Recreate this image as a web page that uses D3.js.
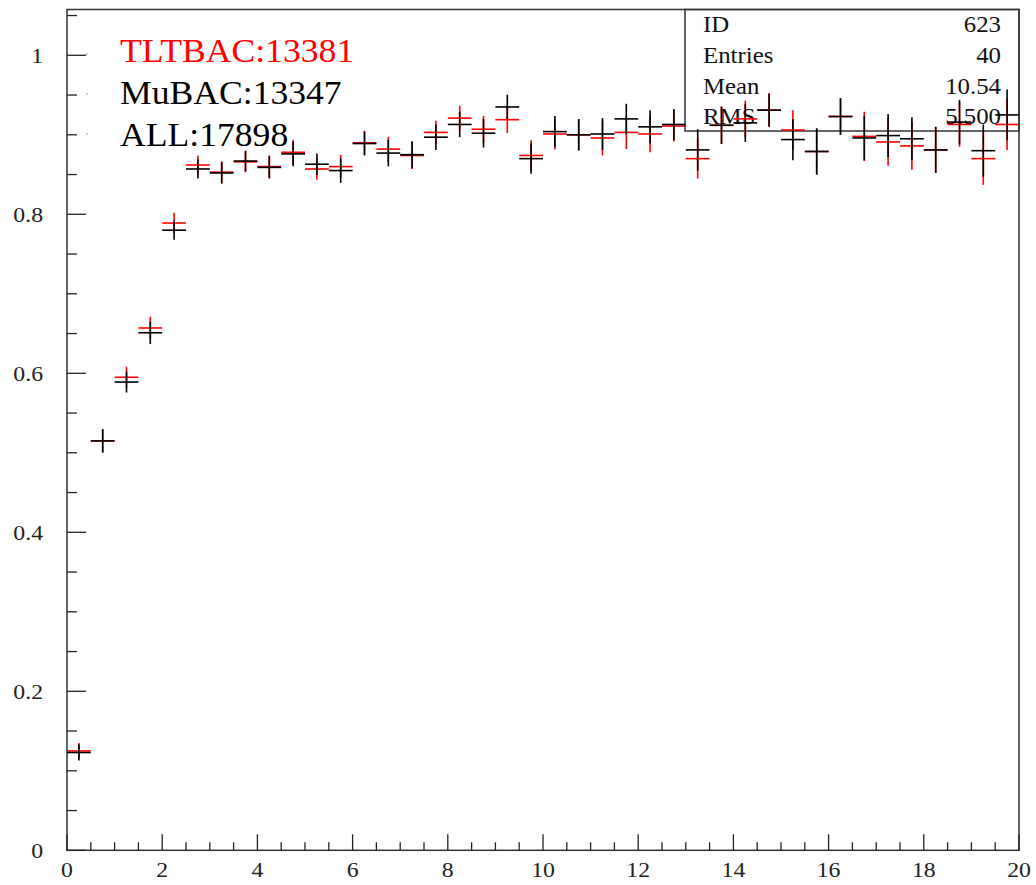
<!DOCTYPE html>
<html>
<head>
<meta charset="utf-8">
<script src="https://cdn.jsdelivr.net/npm/d3@7"></script>
<style>
  body { margin: 0; background: #fff; }
  svg text { font-family: "Liberation Serif", "DejaVu Serif", serif; }
</style>
</head>
<body>
<div id="chart"></div>
<script>
// 40 bins of 0.5 from 0 to 20
const binLow = d3.range(0, 20, 0.5);

// red histogram (TLTBAC)
const redVal = [0.125, 0.515, 0.595, 0.657, 0.789, 0.862, 0.853, 0.866, 0.860, 0.878,
                0.857, 0.860, 0.890, 0.882, 0.874, 0.903, 0.921, 0.907, 0.919, 0.874,
                0.901, 0.900, 0.896, 0.903, 0.901, 0.911, 0.870, 0.912, 0.920, 0.931,
                0.906, 0.879, 0.923, 0.898, 0.891, 0.886, 0.881, 0.913, 0.870, 0.913];
const redErr = [0.010, 0.0147, 0.0133, 0.0142, 0.013, 0.012, 0.0136, 0.013, 0.014, 0.0155,
                0.0135, 0.0147, 0.015, 0.0155, 0.017, 0.0147, 0.0155, 0.0167, 0.0167, 0.019,
                0.0196, 0.0197, 0.0218, 0.021, 0.023, 0.0195, 0.025, 0.0235, 0.023, 0.021,
                0.025, 0.029, 0.023, 0.031, 0.030, 0.030, 0.029, 0.028, 0.033, 0.032];

// black histogram (MuBAC)
const blackVal = [0.123, 0.515, 0.589, 0.651, 0.780, 0.857, 0.852, 0.867, 0.859, 0.876,
                  0.863, 0.855, 0.889, 0.877, 0.875, 0.897, 0.913, 0.902, 0.935, 0.870,
                  0.904, 0.900, 0.901, 0.920, 0.910, 0.913, 0.881, 0.912, 0.915, 0.931,
                  0.894, 0.879, 0.923, 0.896, 0.899, 0.895, 0.881, 0.916, 0.880, 0.925];
const blackErr = [0.010, 0.0147, 0.0132, 0.0142, 0.012, 0.012, 0.0136, 0.013, 0.014, 0.0155,
                  0.0135, 0.0155, 0.015, 0.0167, 0.017, 0.016, 0.016, 0.018, 0.0155, 0.019,
                  0.0196, 0.0197, 0.020, 0.019, 0.021, 0.0195, 0.026, 0.0235, 0.024, 0.021,
                  0.026, 0.029, 0.023, 0.028, 0.027, 0.027, 0.029, 0.028, 0.033, 0.032];

const legendText = ["TLTBAC:13381", "MuBAC:13347", "ALL:17898"];
const legendColor = ["#ff0000", "#000000", "#000000"];

const statNames = ["ID", "Entries", "Mean", "RMS"];
const statValues = ["623", "40", "10.54", "5.500"];

const yTicks = [0, 0.2, 0.4, 0.6, 0.8, 1];
const xTicks = [0, 2, 4, 6, 8, 10, 12, 14, 16, 18, 20];

let width = 1036;
let height = 885;
const padLeft = 67, padRight = 1019, padTop = 9.5, padBottom = 850.3;
// the original picture is a bit stretched sideways, so the text is too
const stretch = 1.08;
const place = (px, py) => "translate(" + px + "," + py + ") scale(" + stretch + ",1)";

const svg = d3.select("#chart").append("svg")
  .attr("width", width)
  .attr("height", height);

const x = d3.scaleLinear().domain([0, 20]).range([padLeft, padRight]);
const y = d3.scaleLinear().domain([0, 1.0576]).range([padBottom, padTop]);

// frame
svg.append("rect")
  .attr("x", padLeft).attr("y", padTop)
  .attr("width", padRight - padLeft).attr("height", padBottom - padTop)
  .attr("fill", "none").attr("stroke", "#333").attr("stroke-width", 1.5);

// y ticks (inward): majors every 0.2, minors every 0.05
const yMinor = d3.range(0, 1.06, 0.05);
svg.selectAll(".ytick").data(yMinor).enter().append("line")
  .attr("x1", padLeft).attr("x2", d => padLeft + (Math.abs(d / 0.2 - Math.round(d / 0.2)) < 1e-6 ? 19 : 10))
  .attr("y1", d => y(d)).attr("y2", d => y(d))
  .attr("stroke", "#222").attr("stroke-width", 1.3);

svg.selectAll(".ylab").data(yTicks).enter().append("text")
  .attr("transform", d => place(43, y(d)))
  .attr("dy", "0.35em")
  .attr("text-anchor", "end")
  .attr("font-size", 22)
  .attr("fill", "#222")
  .text(d => d3.format("~g")(d));

// x ticks (inward): majors every 2, minors every 0.5
const xMinor = d3.range(0, 20.01, 0.5);
svg.selectAll(".xtick").data(xMinor).enter().append("line")
  .attr("x1", d => x(d)).attr("x2", d => x(d))
  .attr("y1", padBottom).attr("y2", d => padBottom - (d % 2 === 0 ? 16 : 8))
  .attr("stroke", "#222").attr("stroke-width", 1.3);

svg.selectAll(".xlab").data(xTicks).enter().append("text")
  .attr("transform", d => place(x(d), 877))
  .attr("text-anchor", "middle")
  .attr("font-size", 22)
  .attr("fill", "#222")
  .text(d => d);

// stats box
const box = svg.append("g");
box.append("rect")
  .attr("x", 685).attr("y", padTop)
  .attr("width", padRight - 685).attr("height", 131 - padTop)
  .attr("fill", "none").attr("stroke", "#333").attr("stroke-width", 1.5);
box.selectAll(".sname").data(statNames).enter().append("text")
  .attr("transform", (d, i) => place(703, 32.3 + i * 30.6))
  .attr("font-size", 23).attr("fill", "#111")
  .text(d => d);
box.selectAll(".sval").data(statValues).enter().append("text")
  .attr("transform", (d, i) => place(1001, 32.3 + i * 30.6))
  .attr("text-anchor", "end")
  .attr("font-size", 23).attr("fill", "#111")
  .text(d => d);

// legend
svg.selectAll(".leg").data(legendText).enter().append("text")
  .attr("transform", (d, i) => place(120, 61.7 + i * 42))
  .attr("font-size", 33)
  .attr("fill", (d, i) => legendColor[i])
  .text(d => d);
svg.selectAll(".legdot").data(legendText).enter().append("rect")
  .attr("x", 86.5).attr("y", (d, i) => 53.5 + i * 40)
  .attr("width", 1).attr("height", 1)
  .attr("fill", "#444");

// histograms with error bars
function drawHist(vals, errs, color) {
  const g = svg.append("g").attr("stroke", color).attr("stroke-width", 1.6);
  const w = x(0.5) - x(0);
  g.selectAll(".h").data(vals).enter().append("line")
    .attr("x1", (d, i) => x(binLow[i]))
    .attr("x2", (d, i) => x(binLow[i]) + w)
    .attr("y1", d => y(d)).attr("y2", d => y(d));
  g.selectAll(".v").data(vals).enter().append("line")
    .attr("x1", (d, i) => x(binLow[i] + 0.25))
    .attr("x2", (d, i) => x(binLow[i] + 0.25))
    .attr("y1", (d, i) => y(d - errs[i]))
    .attr("y2", (d, i) => y(d + errs[i]));
}

drawHist(redVal, redErr, "#ff0000");
drawHist(blackVal, blackErr, "#000000");
</script>
</body>
</html>
